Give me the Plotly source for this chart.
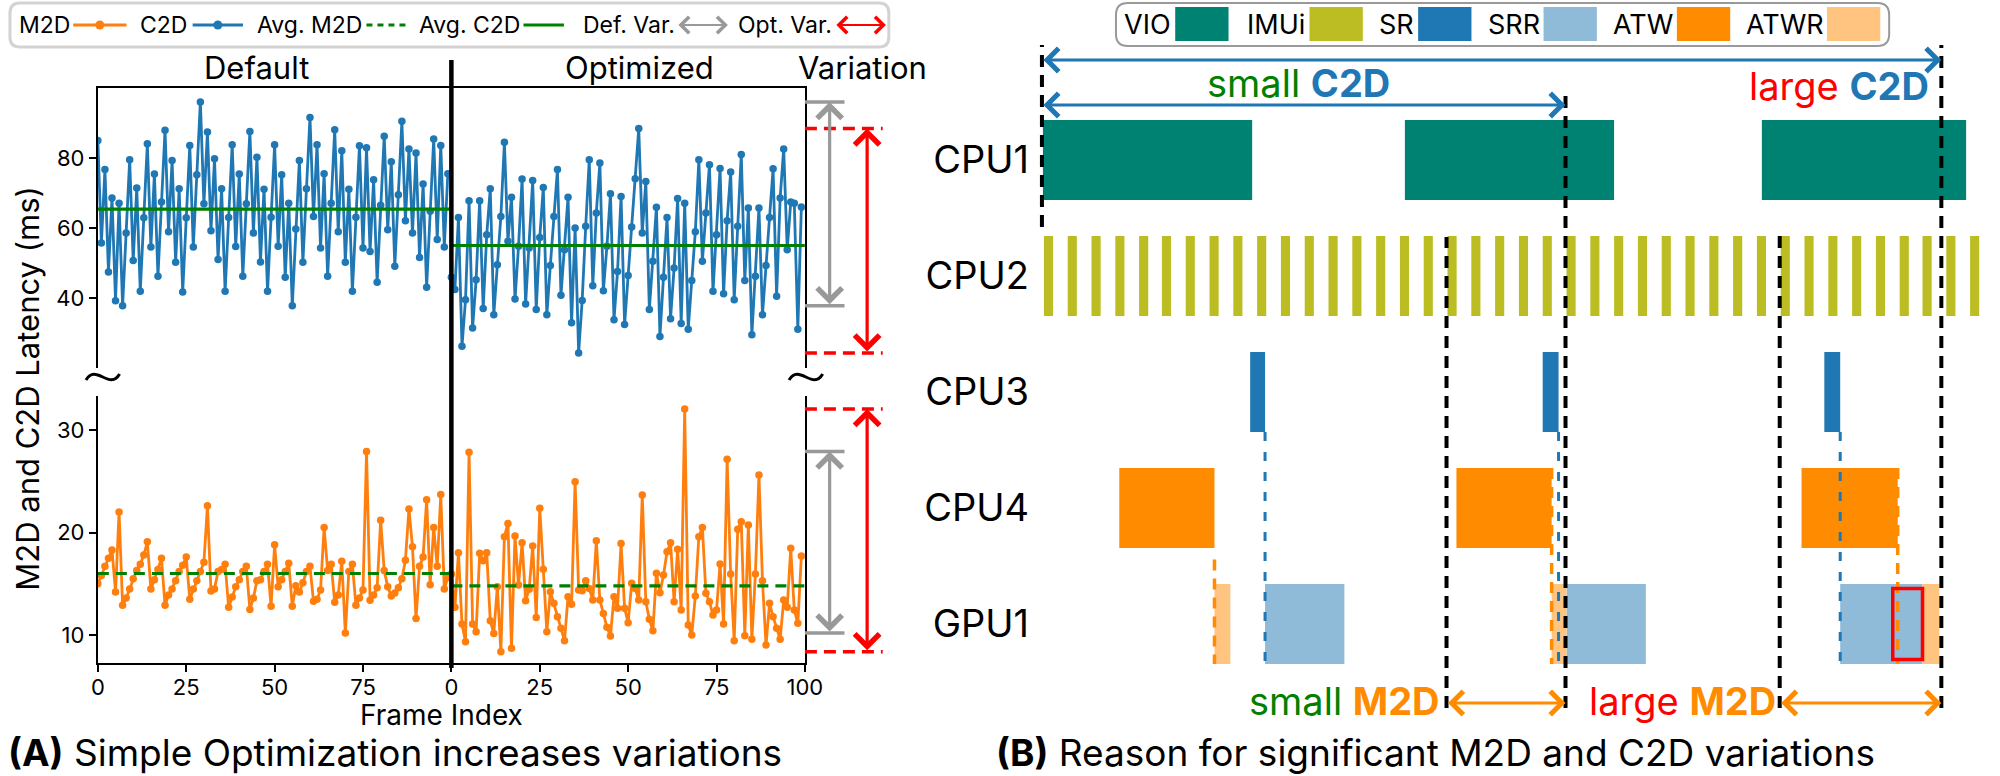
import plotly.graph_objects as go

W, H = 2000, 776


def X(p):
    return p / W


def Y(p):
    return 1 - p / H


# ---------------- Panel A data ----------------
FRAME_DEF = list(range(0, 100))
FRAME_OPT = list(range(100, 200))
X_TICKVALS = [0, 25, 50, 75, 100, 125, 150, 175, 200]
X_TICKTEXT = ["0", "25", "50", "75", "0", "25", "50", "75", "100"]

C2D_DEF = [85.0, 55.7, 76.7, 47.4, 68.6, 39.2, 67.1, 37.8, 58.6, 79.5,
           50.7, 71.4, 41.9, 62.9, 84.1, 54.6, 75.4, 46.2, 67.4, 87.9,
           58.9, 79.3, 50.2, 71.2, 41.7, 62.9, 83.6, 54.6, 75.2, 96.0,
           66.9, 87.4, 59.2, 79.8, 51.0, 71.2, 41.9, 63.0, 83.8, 54.7,
           75.4, 46.2, 66.9, 87.6, 58.6, 80.2, 50.3, 71.1, 41.9, 63.1,
           83.8, 54.8, 75.2, 45.9, 67.1, 37.8, 59.7, 79.3, 50.2, 71.2,
           91.6, 63.3, 83.8, 54.3, 75.5, 46.2, 67.1, 88.1, 58.9, 82.1,
           50.2, 71.1, 41.9, 63.1, 83.5, 54.3, 82.9, 53.3, 73.8, 44.5,
           66.5, 86.2, 59.5, 78.9, 49.1, 69.5, 90.5, 62.1, 82.6, 58.6,
           81.4, 51.6, 72.6, 43.1, 64.8, 85.4, 56.7, 83.6, 54.6, 75.5]

C2D_OPT = [45.9, 42.4, 63.0, 26.2, 39.5, 67.8, 31.4, 45.2, 67.8, 37.0,
           58.1, 71.2, 35.2, 49.5, 63.3, 84.5, 56.2, 68.8, 39.7, 54.8,
           74.0, 38.3, 54.3, 73.6, 36.7, 57.3, 71.6, 35.2, 49.3, 63.3,
           76.7, 40.8, 53.8, 68.8, 32.9, 60.0, 24.3, 39.3, 60.5, 79.5,
           43.5, 64.3, 78.6, 42.1, 54.8, 69.8, 33.8, 47.6, 69.0, 32.4,
           46.4, 60.3, 74.1, 88.4, 58.6, 73.3, 36.7, 50.5, 65.9, 29.0,
           45.9, 63.0, 34.1, 48.6, 68.4, 32.7, 67.1, 31.1, 45.0, 58.9,
           79.5, 50.5, 64.3, 78.1, 41.9, 58.1, 77.0, 41.2, 62.1, 76.0,
           39.5, 60.5, 81.0, 45.0, 65.7, 29.5, 46.2, 65.7, 35.2, 49.3,
           63.0, 76.9, 40.5, 68.6, 82.6, 53.8, 67.4, 67.1, 31.1, 66.0]

M2D_DEF = [15.0, 15.8, 16.7, 17.5, 18.3, 14.2, 22.0, 12.9, 13.6, 14.5,
           15.5, 16.3, 16.9, 17.8, 19.1, 14.5, 15.4, 16.4, 17.5, 12.9,
           13.9, 14.5, 15.3, 16.2, 16.8, 17.6, 13.5, 14.5, 15.3, 16.2,
           17.1, 22.6, 14.3, 14.5, 16.2, 16.4, 16.9, 12.7, 13.7, 14.7,
           15.4, 16.2, 16.7, 12.5, 13.6, 15.3, 15.4, 16.2, 16.9, 12.8,
           18.8, 14.7, 15.4, 16.2, 17.0, 12.8, 14.8, 14.2, 15.1, 16.2,
           16.7, 13.3, 13.5, 14.4, 20.5, 16.3, 16.9, 13.2, 13.9, 17.2,
           10.2, 16.2, 16.9, 12.9, 13.6, 14.4, 27.9, 13.4, 13.9, 14.6,
           21.2, 16.3, 14.7, 13.8, 14.1, 14.6, 15.5, 17.3, 22.3, 18.6,
           11.6, 16.7, 17.6, 23.2, 14.9, 20.5, 16.7, 23.7, 14.5, 15.6]

M2D_OPT = [15.95, 12.70, 18.03, 11.07, 9.35, 27.82, 11.07, 10.33, 17.97, 17.25,
           18.03, 11.40, 10.16, 14.72, 8.37, 19.59, 20.89, 8.70, 19.66, 14.88,
           19.01, 13.35, 14.46, 18.68, 11.72, 22.36, 16.41, 10.33, 14.23, 13.09,
           11.79, 10.65, 9.45, 13.74, 12.99, 24.96, 14.39, 14.33, 15.30, 14.55,
           13.41, 19.20, 13.41, 12.11, 10.75, 9.90, 13.74, 12.60, 18.94, 12.60,
           11.20, 15.04, 14.55, 13.41, 23.66, 13.25, 11.53, 10.42, 16.02, 14.13,
           15.85, 18.13, 19.01, 13.25, 18.36, 12.44, 32.05, 10.98, 10.00, 13.80,
           19.59, 20.50, 14.07, 13.25, 11.95, 12.44, 16.93, 11.07, 27.14, 15.95,
           9.45, 20.31, 21.06, 9.93, 20.73, 9.58, 15.95, 25.61, 15.30, 9.02,
           13.09, 11.79, 10.65, 9.58, 13.41, 12.70, 18.46, 12.44, 11.14, 17.71]

AVG_C2D = [65.4, 55.0]   # default, optimized
AVG_M2D = [16.0, 14.8]

# ---------------- Panel B data (time units) ----------------
ROWS = ["CPU1", "CPU2", "CPU3", "CPU4", "GPU1"]
VIO_START = [0.4, 36.9, 72.9]
VIO_END = [21.5, 58.0, 93.5]
IMU_START = [0.5, 2.9, 5.3, 7.7, 10.1, 12.4, 14.8, 17.2, 19.6, 22.0,
             24.4, 26.8, 29.2, 31.6, 34.0, 36.4, 38.8, 41.2, 43.6, 46.0,
             48.4, 50.8, 53.2, 55.6, 58.0, 60.4, 62.8, 65.2, 67.6, 70.0,
             72.4, 74.8, 77.2, 79.6, 82.0, 84.4, 86.8, 89.1, 91.5, 93.9]
IMU_DUR = [0.92] * len(IMU_START)
SR_START = [21.3, 50.8, 79.2]
SR_END = [22.8, 52.4, 80.8]
ATW_START = [8.1, 42.1, 76.9]
ATW_END = [17.7, 51.7, 86.6]
ATWR_START = [17.7, 51.7, 89.1]
ATWR_END = [19.3, 53.2, 90.8]
SRR_START = [22.8, 53.2, 80.8]
SRR_END = [30.8, 61.2, 89.1]
LATE_SRR = [86.1, 89.1]
T_VIO = 0.3
T_IMU_SMALL = 41.1
T_DISP_SMALL = 53.1
T_IMU_LARGE = 74.7
T_DISP_LARGE = 91.0

# ---------------- styles ----------------
C2D_COLOR = "#1f77b4"
M2D_COLOR = "#ff7f0e"
AVG_COLOR = "#008000"
GRAY = "#999999"
RED = "#ff0000"
VIO_C = "#008272"
IMU_C = "#bcbd22"
SR_C = "#1f77b4"
SRR_C = "#8fbad8"
ATW_C = "#ff8c00"
ATWR_C = "#ffc580"
FONT = "Inter"

fig = go.Figure()


def series(x, y, color, xa, ya):
    fig.add_trace(go.Scatter(x=x, y=y, mode="lines+markers",
                             line=dict(color=color, width=2.8),
                             marker=dict(color=color, size=7.5),
                             xaxis=xa, yaxis=ya, showlegend=False, hoverinfo="skip"))


series(FRAME_DEF, C2D_DEF, C2D_COLOR, "x2", "y2")
series(FRAME_OPT, C2D_OPT, C2D_COLOR, "x2", "y2")
series(FRAME_DEF, M2D_DEF, M2D_COLOR, "x", "y")
series(FRAME_OPT, M2D_OPT, M2D_COLOR, "x", "y")

for (a, b), v in zip([(0, 100), (100, 200)], AVG_C2D):
    fig.add_trace(go.Scatter(x=[a, b], y=[v, v], mode="lines",
                             line=dict(color=AVG_COLOR, width=3.2),
                             xaxis="x2", yaxis="y2", showlegend=False, hoverinfo="skip"))
for (a, b), v in zip([(0, 100), (100, 200)], AVG_M2D):
    fig.add_trace(go.Scatter(x=[a, b], y=[v, v], mode="lines",
                             line=dict(color=AVG_COLOR, width=3.2, dash="11px,7px"),
                             xaxis="x", yaxis="y", showlegend=False, hoverinfo="skip"))

BAR_W = 0.69


def bars(row, starts, ends, color):
    fig.add_trace(go.Bar(y=[row] * len(starts), x=[e - s for s, e in zip(starts, ends)],
                         base=starts, orientation="h", width=BAR_W,
                         marker=dict(color=color, line=dict(width=0)),
                         xaxis="x3", yaxis="y3", showlegend=False, hoverinfo="skip"))


bars(0, VIO_START, VIO_END, VIO_C)
bars(1, IMU_START, [s + d for s, d in zip(IMU_START, IMU_DUR)], IMU_C)
bars(2, SR_START, SR_END, SR_C)
bars(3, ATW_START, ATW_END, ATW_C)
bars(4, SRR_START, SRR_END, SRR_C)
bars(4, ATWR_START, ATWR_END, ATWR_C)

shapes = []
ann = []


def rrect(x0, y0, x1, y1, r):
    return (f"M {X(x0 + r)},{Y(y0)} L {X(x1 - r)},{Y(y0)} Q {X(x1)},{Y(y0)} {X(x1)},{Y(y0 + r)} "
            f"L {X(x1)},{Y(y1 - r)} Q {X(x1)},{Y(y1)} {X(x1 - r)},{Y(y1)} "
            f"L {X(x0 + r)},{Y(y1)} Q {X(x0)},{Y(y1)} {X(x0)},{Y(y1 - r)} "
            f"L {X(x0)},{Y(y0 + r)} Q {X(x0)},{Y(y0)} {X(x0 + r)},{Y(y0)} Z")


def text(x, y, t, size, xanchor="center", yanchor="middle", color="black", angle=0):
    ann.append(dict(xref="paper", yref="paper", x=X(x), y=Y(y), text=t, showarrow=False,
                    xanchor=xanchor, yanchor=yanchor, textangle=angle, borderpad=0,
                    font=dict(family=FONT, size=size, color=color)))


def arrow(**kw):
    base = dict(text="", showarrow=True, arrowhead=4, startarrowhead=4, arrowside="end+start",
                standoff=0, startstandoff=0)
    base.update(kw)
    ann.append(base)


# ----- Panel A decorations -----
shapes.append(dict(type="line", xref="x", yref="paper", x0=100, x1=100, y0=Y(668), y1=Y(60),
                   line=dict(color="black", width=4.5)))
for cx in (97, 809):
    cy = 377
    shapes.append(dict(type="path", xref="paper", yref="paper",
                       path=f"M {X(cx - 17)},{Y(cy + 3)} C {X(cx - 7)},{Y(cy - 14)} {X(cx + 7)},{Y(cy + 14)} {X(cx + 17)},{Y(cy - 3)}",
                       line=dict(color="black", width=3)))

for data_def, data_opt, ya in ((C2D_DEF, C2D_OPT, "y2"), (M2D_DEF, M2D_OPT, "y")):
    for data, color, cap, ax_x, dash in ((data_def, GRAY, 1.056, 1.035, "solid"),
                                         (data_opt, RED, 1.110, 1.088, "12px,7px")):
        for v in (max(data), min(data)):
            shapes.append(dict(type="line", xref="x domain", yref=ya, x0=1.0, x1=cap, y0=v, y1=v,
                               line=dict(color=color, width=3.5, dash=dash)))
        arrow(xref="x domain", x=ax_x, yref=ya, y=max(data), axref="pixel", ax=0,
              ayref=ya, ay=min(data), arrowcolor=color, arrowwidth=3.2,
              arrowsize=1.5, startarrowsize=1.5)

text(253, 67, "Default", 31)
text(640, 67, "Optimized", 31)
text(866, 67, "Variation", 31)
text(440, 715, "Frame Index", 28)
text(20, 388, "M2D and C2D Latency (ms)", 31, angle=-90)
text(0, 752, "<b>(A)</b> Simple Optimization increases variations", 37, xanchor="left")

# legend A
shapes.append(dict(type="path", xref="paper", yref="paper", path=rrect(3, 3, 893, 47, 10),
                   line=dict(color="#d3d3d3", width=3), fillcolor="white"))
LY = 25
for label, right in (("M2D", 64), ("C2D", 182), ("Avg. M2D", 360), ("Avg. C2D", 520),
                     ("Def. Var.", 676), ("Opt. Var.", 835)):
    text(right + 1, LY, label, 23, xanchor="right")
for x0, x1, col in ((67, 121, M2D_COLOR), (188, 239, C2D_COLOR)):
    shapes.append(dict(type="line", xref="paper", yref="paper", x0=X(x0), x1=X(x1), y0=Y(LY), y1=Y(LY),
                       line=dict(color=col, width=3)))
    shapes.append(dict(type="circle", xref="paper", yref="paper", xsizemode="pixel", ysizemode="pixel",
                       xanchor=X((x0 + x1) / 2), yanchor=Y(LY), x0=-4.5, x1=4.5, y0=-4.5, y1=4.5,
                       fillcolor=col, line=dict(width=0)))
shapes.append(dict(type="line", xref="paper", yref="paper", x0=X(364), x1=X(405), y0=Y(LY), y1=Y(LY),
                   line=dict(color=AVG_COLOR, width=3, dash="6px,5px")))
shapes.append(dict(type="line", xref="paper", yref="paper", x0=X(523), x1=X(564), y0=Y(LY), y1=Y(LY),
                   line=dict(color=AVG_COLOR, width=3)))
for x0, x1, col in ((679, 730, GRAY), (839, 890, RED)):
    arrow(xref="paper", x=X(x1), yref="paper", y=Y(LY), axref="pixel", ax=-(x1 - x0),
          ayref="pixel", ay=0, arrowcolor=col, arrowwidth=2, arrowsize=1.6, startarrowsize=1.6)

# ----- Panel B decorations -----
for t, top in ((T_VIO, 45), (T_DISP_SMALL, 88), (T_IMU_SMALL, 237), (T_IMU_LARGE, 235), (T_DISP_LARGE, 45)):
    bottom = 227 if t == T_VIO else 708
    shapes.append(dict(type="line", xref="x3", yref="paper", x0=t, x1=t, y0=Y(bottom), y1=Y(top),
                       line=dict(color="black", width=4, dash="12px,8px")))
for t in SR_END:
    shapes.append(dict(type="line", xref="x3", yref="y3", x0=t, x1=t, y0=2 + BAR_W / 2, y1=4 + BAR_W / 2,
                       line=dict(color=SR_C, width=3, dash="9px,11px")))
for i, t in enumerate(ATW_END):
    y0 = 3 + BAR_W / 2 + 0.1 if i == 0 else 3 - BAR_W / 2
    shapes.append(dict(type="line", xref="x3", yref="y3", x0=t, x1=t, y0=y0, y1=4 + BAR_W / 2,
                       line=dict(color=ATW_C, width=3.5, dash="11px,8px")))
shapes.append(dict(type="rect", xref="x3", yref="y3", x0=LATE_SRR[0], x1=LATE_SRR[1],
                   y0=4 - BAR_W / 2 + 0.04, y1=4 + BAR_W / 2 - 0.04, line=dict(color=RED, width=3.5)))

arrow(xref="x3", x=T_DISP_LARGE, axref="x3", ax=T_VIO, yref="paper", y=Y(60), ayref="pixel", ay=0,
      arrowcolor=C2D_COLOR, arrowwidth=3, arrowsize=1.5, startarrowsize=1.5)
arrow(xref="x3", x=T_DISP_SMALL, axref="x3", ax=T_VIO, yref="paper", y=Y(105), ayref="pixel", ay=0,
      arrowcolor=C2D_COLOR, arrowwidth=3, arrowsize=1.5, startarrowsize=1.5)
arrow(xref="x3", x=T_DISP_SMALL, axref="x3", ax=T_IMU_SMALL, yref="paper", y=Y(703), ayref="pixel", ay=0,
      arrowcolor=ATW_C, arrowwidth=3, arrowsize=1.5, startarrowsize=1.5)
arrow(xref="x3", x=T_DISP_LARGE, axref="x3", ax=T_IMU_LARGE, yref="paper", y=Y(703), ayref="pixel", ay=0,
      arrowcolor=ATW_C, arrowwidth=3, arrowsize=1.5, startarrowsize=1.5)

text(1308, 83, "<span style='color:#008000'>small</span> <b><span style='color:#1f77b4'>C2D</span></b>", 38)
text(1947, 86, "<span style='color:#ff0000'>large</span> <b><span style='color:#1f77b4'>C2D</span></b>", 38, xanchor="right")
text(1452, 701, "<span style='color:#008000'>small</span> <b><span style='color:#ff8c00'>M2D</span></b>", 38, xanchor="right")
text(1792, 701, "<span style='color:#ff0000'>large</span> <b><span style='color:#ff8c00'>M2D</span></b>", 38, xanchor="right")
text(1000, 752, "<b>(B)</b> Reason for significant M2D and C2D variations", 37, xanchor="left")

# legend B
shapes.append(dict(type="path", xref="paper", yref="paper", path=rrect(1123, 3, 1906, 46, 12),
                   line=dict(color="#999999", width=2), fillcolor="white"))
for label, right, x0, col in (("VIO", 1179, 1183, VIO_C), ("IMUi", 1314, 1319, IMU_C),
                              ("SR", 1425, 1429, SR_C), ("SRR", 1552, 1556, SRR_C),
                              ("ATW", 1687, 1691, ATW_C), ("ATWR", 1840, 1843, ATWR_C)):
    text(right + 1, 24, label, 27, xanchor="right")
    shapes.append(dict(type="rect", xref="paper", yref="paper", x0=X(x0), x1=X(x0 + 54),
                       y0=Y(41), y1=Y(7), fillcolor=col, line=dict(width=0)))

axis_common = dict(showgrid=False, zeroline=False)
fig.update_layout(
    width=W, height=H, margin=dict(l=0, r=0, t=0, b=0),
    paper_bgcolor="white", plot_bgcolor="white",
    font=dict(family=FONT, size=22, color="black"),
    showlegend=False, barmode="overlay",
    xaxis=dict(domain=[X(92), X(808)], range=[0, 200], anchor="y", tickvals=X_TICKVALS,
               ticktext=X_TICKTEXT, ticks="outside", ticklen=7, tickwidth=2, tickcolor="black",
               showline=True, linewidth=2, linecolor="black", tickfont=dict(size=22),
               ticklabelstandoff=-3, **axis_common),
    xaxis2=dict(domain=[X(92), X(808)], range=[0, 200], anchor="y2", side="top", showline=True,
                linewidth=2, linecolor="black", showticklabels=False, ticks="", **axis_common),
    yaxis=dict(domain=[Y(663), Y(396)], range=[7.27, 33.32], anchor="x", tickvals=[10, 20, 30],
               ticks="outside", ticklen=7, tickwidth=2, tickcolor="black", showline=True, mirror=True,
               linewidth=2, linecolor="black", tickfont=dict(size=22), **axis_common),
    yaxis2=dict(domain=[Y(368), Y(88)], range=[20, 100], anchor="x2", tickvals=[40, 60, 80],
                ticks="outside", ticklen=7, tickwidth=2, tickcolor="black", showline=True, mirror=True,
                linewidth=2, linecolor="black", tickfont=dict(size=22), **axis_common),
    xaxis3=dict(domain=[X(1040), 1.0], range=[-0.5, 95.1], anchor="y3", visible=False, **axis_common),
    yaxis3=dict(domain=[Y(682), Y(102)], range=[4.5, -0.5], anchor="x3", tickvals=[0, 1, 2, 3, 4],
                ticktext=ROWS, ticks="", showline=False, tickfont=dict(size=38),
                ticklabelstandoff=4, **axis_common),
    shapes=shapes,
    annotations=ann,
)

fig.write_html("out.html", config={"displayModeBar": False},
               post_script="document.body.style.margin='0px';document.body.style.overflow='hidden';")
